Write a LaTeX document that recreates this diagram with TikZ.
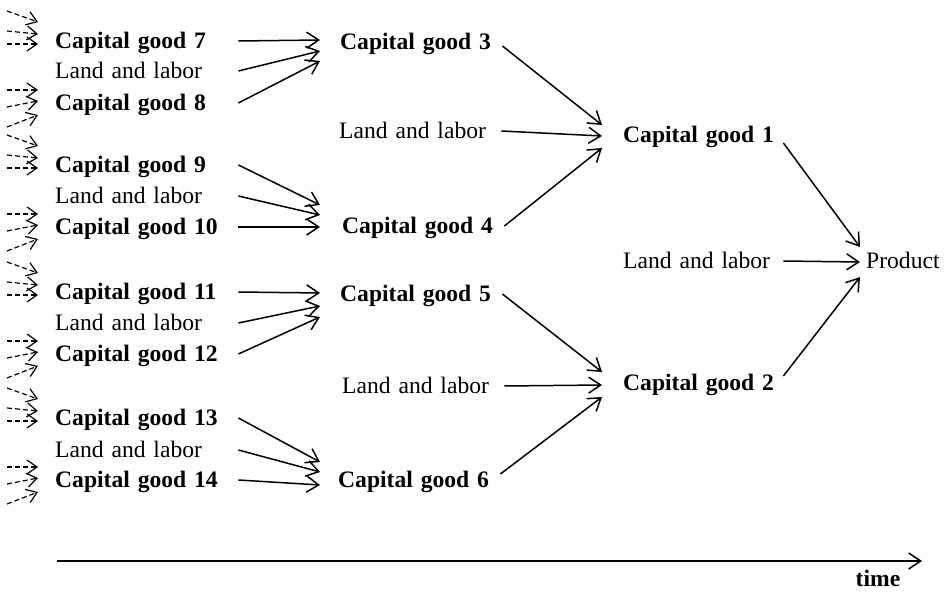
\documentclass[tikz,border=0pt]{standalone}
\usepackage{fontspec}
\setmainfont{Liberation Serif}
\usetikzlibrary{arrows.meta,calc}
\newcommand\diagsize{\fontsize{23.6bp}{28bp}\selectfont}
\tikzset{
  input/.style={font=\diagsize,anchor=west,inner sep=0pt,text height=15.6bp,text depth=0pt},
  good/.style={input,font=\diagsize\bfseries},
  early/.style={text width=183bp,align=left},
  middle/.style={text width=162bp,align=left},
  late/.style={text width=160bp,align=left},
  flow/.style={-{Straight Barb[length=12bp,width=16bp]},line width=1.5bp},
  older/.style={-{Straight Barb[length=10bp,width=14bp]},line width=1.2bp,dash pattern=on 5bp off 3bp},
}
\begin{document}
\begin{tikzpicture}[x=1bp,y=-1bp]
  \useasboundingbox (0,0) rectangle (947,594);
  \node[good,early] (cg7) at (55,41) {Capital good 7};
  \node[input,early] (ll7) at (55,71) {Land and labor};
  \node[good,early] (cg8) at (55,103) {Capital good 8};
  \node[good,early] (cg9) at (55,165) {Capital good 9};
  \node[input,early] (ll9) at (55,196) {Land and labor};
  \node[good,early] (cg10) at (55,227) {Capital good 10};
  \node[good,early] (cg11) at (55,292) {Capital good 11};
  \node[input,early] (ll11) at (55,323) {Land and labor};
  \node[good,early] (cg12) at (55,354) {Capital good 12};
  \node[good,early] (cg13) at (55,418) {Capital good 13};
  \node[input,early] (ll13) at (55,450) {Land and labor};
  \node[good,early] (cg14) at (55,480) {Capital good 14};

  \node[good,middle] (cg3) at (340,42) {Capital good 3};
  \node[input,middle] (ll3) at (339,131) {Land and labor};
  \node[good,middle] (cg4) at (342,226) {Capital good 4};
  \node[good,middle] (cg5) at (340,294) {Capital good 5};
  \node[input,middle] (ll5) at (342,386) {Land and labor};
  \node[good,middle] (cg6) at (338,480) {Capital good 6};

  \node[good,late] (cg1) at (623,135) {Capital good 1};
  \node[input,late] (ll1) at (623,261) {Land and labor};
  \node[good,late] (cg2) at (623,383) {Capital good 2};
  \node[input] (prod) at (866,261) {Product};

  \coordinate (t0) at (57,561);
  \coordinate (t1) at (922,561);
  \node[good,anchor=center] (time) at (878,579) {time};
  \draw[flow] (t0) -- (t1);

  \foreach \g in {cg7,cg9,cg11,cg13}{
    \coordinate (\g a) at ($(\g.west)+(-48,-30)$);
    \coordinate (\g b) at ($(\g.west)+(-48,-10)$);
    \coordinate (\g c) at ($(\g.west)+(-48,3)$);
    \draw[older] (\g a) -- ($(\g.west)+(-17,-19)$);
    \draw[older] (\g b) -- ($(\g.west)+(-17,-7)$);
    \draw[older] (\g c) -- ($(\g.west)+(-17,3)$);
  }
  \foreach \g in {cg8,cg10,cg12,cg14}{
    \coordinate (\g a) at ($(\g.west)+(-48,-13)$);
    \coordinate (\g b) at ($(\g.west)+(-48,4)$);
    \coordinate (\g c) at ($(\g.west)+(-48,24)$);
    \draw[older] (\g a) -- ($(\g.west)+(-17,-13)$);
    \draw[older] (\g b) -- ($(\g.west)+(-17,-2)$);
    \draw[older] (\g c) -- ($(\g.west)+(-17,12)$);
  }

  \draw[flow] (cg7.east) -- ($(cg3.west)+(-20,-2)$);
  \draw[flow] (ll7.east) -- ($(cg3.west)+(-20,9)$);
  \draw[flow] (cg8.east) -- ($(cg3.west)+(-20,19)$);
  \draw[flow] (cg9.east) -- ($(cg4.west)+(-22,-21)$);
  \draw[flow] (ll9.east) -- ($(cg4.west)+(-22,-11)$);
  \draw[flow] (cg10.east) -- ($(cg4.west)+(-22,1)$);
  \draw[flow] (cg11.east) -- ($(cg5.west)+(-20,-1)$);
  \draw[flow] (ll11.east) -- ($(cg5.west)+(-20,12)$);
  \draw[flow] (cg12.east) -- ($(cg5.west)+(-20,23)$);
  \draw[flow] (cg13.east) -- ($(cg6.west)+(-18,-18)$);
  \draw[flow] (ll13.east) -- ($(cg6.west)+(-18,-8)$);
  \draw[flow] (cg14.east) -- ($(cg6.west)+(-18,5)$);

  \draw[flow] ($(cg3.east)+(0,4)$) -- ($(cg1.west)+(-21,-10)$);
  \draw[flow] (ll3.east) -- ($(cg1.west)+(-21,1)$);
  \draw[flow] (cg4.east) -- ($(cg1.west)+(-21,13)$);
  \draw[flow] (cg5.east) -- ($(cg2.west)+(-21,-11)$);
  \draw[flow] (ll5.east) -- ($(cg2.west)+(-21,2)$);
  \draw[flow] ($(cg6.east)+(0,-6)$) -- ($(cg2.west)+(-21,14)$);

  \draw[flow] ($(cg1.east)+(0,8)$) -- ($(prod.west)+(-6,-14)$);
  \draw[flow] (ll1.east) -- ($(prod.west)+(-6,1)$);
  \draw[flow] ($(cg2.east)+(0,-7)$) -- ($(prod.west)+(-6,16)$);
\end{tikzpicture}
\end{document}
